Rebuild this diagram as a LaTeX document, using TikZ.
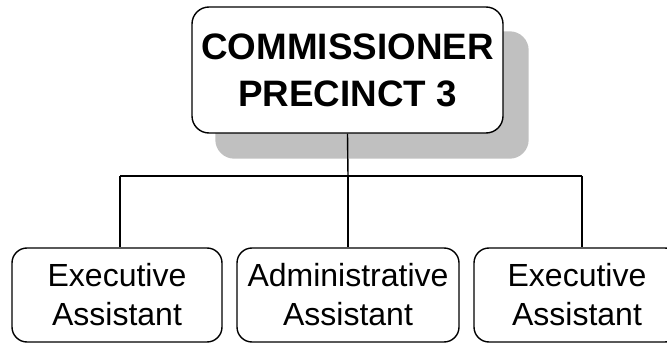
\documentclass[tikz,border=0pt]{standalone}
\usepackage{fontspec}
\setmainfont{Liberation Sans}
\usetikzlibrary{backgrounds}
\definecolor{shadowgray}{HTML}{C0C0C0}
\begin{document}
\begin{tikzpicture}[x=1pt,y=1pt,line width=1.4pt,
  box/.style={draw=black, fill=white, align=center, inner sep=0pt},
  topbox/.style={box, rounded corners=17pt, minimum width=311pt, minimum height=126pt,
    font=\fontsize{36.8}{47}\selectfont\bfseries},
  subbox/.style={box, rounded corners=15pt, minimum height=94pt,
    font=\fontsize{32}{39}\selectfont},
  conn/.style={draw=black, line width=1.4pt}
]
\useasboundingbox (0,0) rectangle (667,343);
\node[topbox] (top) at (347.5,273) {COMMISSIONER\\PRECINCT 3};
\begin{scope}[on background layer]
  \fill[shadowgray, rounded corners=19pt]
    ([xshift=24pt,yshift=-25pt]top.south west) rectangle ([xshift=25pt,yshift=-25pt]top.north east);
\end{scope}
\node[subbox, minimum width=210pt] (ea1) at (117,48) {Executive\\Assistant};
\node[subbox, minimum width=222pt] (aa) at (348,48) {Administrative\\Assistant};
\node[subbox, minimum width=206pt] (ea2) at (577,48) {Executive\\Assistant};
\coordinate (jm) at (348,167);
\coordinate (jl) at (120,167);
\coordinate (jr) at (582,167);
\draw[conn] (top.south) -- (jm);
\draw[conn] (jl) -- (jr);
\draw[conn] (jl) -- (jl |- ea1.north);
\draw[conn] (jm) -- (aa.north);
\draw[conn] (jr) -- (jr |- ea2.north);
\end{tikzpicture}
\end{document}
